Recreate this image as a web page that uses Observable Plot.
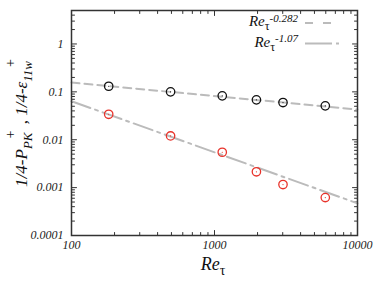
<!DOCTYPE html>
<html><head><meta charset="utf-8">
<script src="https://cdn.jsdelivr.net/npm/d3@7"></script>
<script src="https://cdn.jsdelivr.net/npm/@observablehq/plot@0.6"></script>
<style>body{margin:0;background:#fff}</style>
</head><body><div id="chart"></div>
<script>
const reTau = [182, 493, 1133, 1964, 3013, 5953];
const pPK = [0.131, 0.100, 0.0826, 0.068, 0.0598, 0.051];
const eps11 = [0.034, 0.0120, 0.00548, 0.00214, 0.00116, 0.00062];
const fitRe = [100, 10000];
const fitA = [0.156, 0.0428];
const fitB = [0.0637, 0.00047];
const xMajor = [100, 1000, 10000];
const xLabels = ["100", "1000", "10000"];
const yMajor = [0.0001, 0.001, 0.01, 0.1, 1];
const yLabels = ["0.0001", "0.001", "0.01", "0.1", "1"];
const legendNames = ["-0.282", "-1.07"];

const xMinor = [], yMinor = [];
for (const d of [100, 1000]) for (let k = 2; k <= 9; k++) xMinor.push(d * k);
for (const d of [0.0001, 0.001, 0.01, 0.1, 1]) for (let k = 2; k <= 9; k++) if (d * k <= 5) yMinor.push(d * k);

const pts = reTau.map((r, i) => ({r, a: pPK[i], b: eps11[i]}));
const fit = fitRe.map((r, i) => ({r, a: fitA[i], b: fitB[i]}));

const tick = {draw(ctx, l) { ctx.moveTo(0, 0); ctx.lineTo(0, -l); }};
const serif = "Liberation Serif, Times New Roman, serif";
function ticks(vals, len) {
  return [
    Plot.vector(vals, {x: d => d, frameAnchor: "bottom", length: len, rotate: 0, anchor: "start", shape: tick, stroke: "#333", strokeWidth: 1}),
    Plot.vector(vals, {x: d => d, frameAnchor: "top", length: len, rotate: 180, anchor: "start", shape: tick, stroke: "#333", strokeWidth: 1})
  ];
}
function ticksY(vals, len) {
  return [
    Plot.vector(vals, {y: d => d, frameAnchor: "left", length: len, rotate: 90, anchor: "start", shape: tick, stroke: "#333", strokeWidth: 1}),
    Plot.vector(vals, {y: d => d, frameAnchor: "right", length: len, rotate: -90, anchor: "start", shape: tick, stroke: "#333", strokeWidth: 1})
  ];
}

const chart = Plot.plot({
  width: 382, height: 285,
  marginLeft: 71, marginRight: 25, marginTop: 10, marginBottom: 50,
  style: {fontFamily: serif, background: "#fff"},
  x: {type: "log", domain: [100, 10000], axis: null},
  y: {type: "log", domain: [0.0001, 5], axis: null},
  marks: [
    Plot.text(xMajor, {x: d => d, frameAnchor: "bottom", dy: 13, text: (d, i) => xLabels[i], fontSize: 12, fontStyle: "italic", fontFamily: serif, fill: "#222"}),
    Plot.text(yMajor, {y: d => d, frameAnchor: "left", dx: -8, textAnchor: "end", text: (d, i) => yLabels[i], fontSize: 12, fontStyle: "italic", fontFamily: serif, fill: "#222"}),
    ...ticks(xMajor, 5), ...ticks(xMinor, 3),
    ...ticksY(yMajor, 5), ...ticksY(yMinor, 3),
    Plot.line(fit, {x: "r", y: "a", stroke: "#bbb", strokeWidth: 2, strokeDasharray: "8,5"}),
    Plot.line(fit, {x: "r", y: "b", stroke: "#bbb", strokeWidth: 2, strokeDasharray: "20,5,3,5"}),
    Plot.dot(pts, {x: "r", y: "a", r: 4.2, stroke: "#111", strokeWidth: 1.3, fill: "none"}),
    Plot.dot(pts, {x: "r", y: "b", r: 4.2, stroke: "#e8322a", strokeWidth: 1.3, fill: "none"}),
    Plot.dot(pts, {x: "r", y: "a", r: 0.6, fill: "#111"}),
    Plot.dot(pts, {x: "r", y: "b", r: 0.6, fill: "#e8322a"}),
    Plot.frame({stroke: "#333", strokeWidth: 1.5})
  ]
});
document.getElementById("chart").appendChild(chart);

const svg = d3.select(chart);
// legend
const dashes = ["8,10", "27,4,3,10"];
const lineEnd = [333, 339];
legendNames.forEach((s, i) => {
  const y = 26 + i * 20.5;
  const t = svg.append("text").attr("x", 298).attr("y", y).attr("text-anchor", "end")
    .attr("font-family", serif).attr("font-style", "italic").attr("font-size", 15).attr("fill", "#111");
  t.append("tspan").text("Re");
  t.append("tspan").attr("dy", 4).attr("font-size", 12).attr("font-style", "normal").text("τ");
  t.append("tspan").attr("dy", -8.5).attr("font-size", 11).text(s);
  svg.append("line").attr("x1", 305).attr("x2", lineEnd[i]).attr("y1", y - 3).attr("y2", y - 3)
    .attr("stroke", "#bbb").attr("stroke-width", 2).attr("stroke-dasharray", dashes[i]);
});
// x label
const xl = svg.append("text").attr("x", 213).attr("y", 270).attr("text-anchor", "middle")
  .attr("font-family", serif).attr("font-style", "italic").attr("font-size", 18).attr("fill", "#111");
xl.append("tspan").text("Re");
xl.append("tspan").attr("dy", 5).attr("font-size", 14).attr("font-style", "normal").text("τ");
// y label
const yl = svg.append("text").attr("transform", "translate(27,123) rotate(-90)").attr("text-anchor", "middle")
  .attr("font-family", serif).attr("font-style", "italic").attr("font-size", 17).attr("fill", "#111");
yl.append("tspan").text("1/4-P");
yl.append("tspan").attr("dy", 5).attr("font-size", 13).text("PK");
yl.append("tspan").attr("dy", -17).attr("dx", -6).attr("font-size", 14).attr("font-style", "normal").text("+");
yl.append("tspan").attr("dy", 12).attr("dx", 2).text(" , 1/4-ε");
yl.append("tspan").attr("dy", 5).attr("font-size", 13).text("11w");
yl.append("tspan").attr("dy", -17).attr("dx", -6).attr("font-size", 14).attr("font-style", "normal").text("+");
</script></body></html>
